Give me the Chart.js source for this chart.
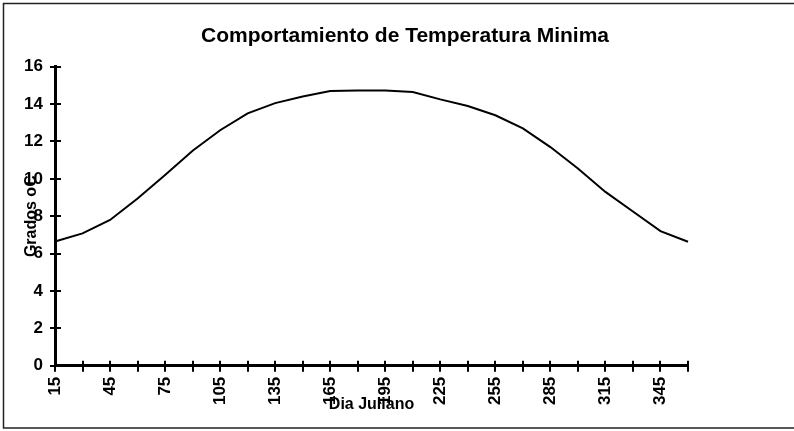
<!DOCTYPE html>
<html>
<head>
<meta charset="utf-8">
<script src="https://cdn.jsdelivr.net/npm/chart.js@4/dist/chart.umd.min.js"></script>
<style>
  html, body { margin: 0; padding: 0; background: #fff; }
  canvas { display: block; }
</style>
</head>
<body>
<canvas id="c" width="794" height="431"></canvas>
<script>
// ---- Data ----
const diasJulianos = [15, 30, 45, 60, 75, 90, 105, 120, 135, 150, 165, 180,
                      195, 210, 225, 240, 255, 270, 285, 300, 315, 330, 345, 360];
const temperaturaMinima = [6.65, 7.08, 7.8, 8.95, 10.2, 11.5, 12.6, 13.5, 14.05, 14.4, 14.7, 14.72,
                           14.72, 14.65, 14.25, 13.9, 13.4, 12.7, 11.7, 10.55, 9.3, 8.25, 7.2, 6.63];
const yMin = 0, yMax = 16, yStep = 2;
const chartTitle = 'Comportamiento de Temperatura Minima';
const xTitle = 'Dia Juliano';
const yTitle = 'Grados oC';

const FONT = "'Liberation Sans', Arial, Helvetica, sans-serif";

const frameAndTicks = {
  id: 'frameAndTicks',
  beforeDraw(chart) {
    const ctx = chart.ctx;
    ctx.save();
    ctx.fillStyle = '#fff';
    ctx.fillRect(0, 0, chart.width, chart.height);
    ctx.strokeStyle = '#222';
    ctx.lineWidth = 1.5;
    ctx.strokeRect(3.5, 3.5, chart.width + 10, 424.5);
    ctx.restore();
  },
  afterDraw(chart) {
    const ctx = chart.ctx;
    const a = chart.chartArea;
    const xs = chart.scales.x, ys = chart.scales.y;
    ctx.save();
    ctx.strokeStyle = '#000';
    ctx.lineWidth = 2;
    ctx.beginPath();
    ys.ticks.forEach((t, i) => {
      const py = Math.round(ys.getPixelForTick(i));
      ctx.moveTo(a.left - 5, py);
      ctx.lineTo(a.left + 6, py);
    });
    xs.ticks.forEach((t, i) => {
      const px = Math.round(xs.getPixelForTick(i));
      ctx.moveTo(px, a.bottom - 5);
      ctx.lineTo(px, a.bottom + 6);
    });
    ctx.stroke();
    ctx.restore();
  }
};

new Chart(document.getElementById('c'), {
  type: 'line',
  data: {
    labels: diasJulianos.map(String),
    datasets: [{
      data: temperaturaMinima,
      borderColor: '#000',
      borderWidth: 2,
      pointRadius: 0,
      tension: 0,
      fill: false
    }]
  },
  options: {
    responsive: false,
    animation: false,
    devicePixelRatio: 1,
    layout: { padding: { left: 16, right: 0, top: 0, bottom: 0 } },
    plugins: {
      legend: { display: false },
      tooltip: { enabled: false },
      title: {
        display: true,
        text: chartTitle,
        color: '#000',
        font: { family: FONT, size: 21, weight: 'bold', lineHeight: 1.2 },
        padding: { top: 24, bottom: 17.5 }
      }
    },
    scales: {
      x: {
        type: 'category',
        offset: false,
        grid: { display: true, drawOnChartArea: false, drawTicks: false },
        border: { display: true, color: '#000', width: 3 },
        ticks: {
          autoSkip: false,
          minRotation: 90,
          maxRotation: 90,
          padding: 11,
          color: '#000',
          font: { family: FONT, size: 17, weight: 'bold' },
          callback: function (value, index) {
            return index % 2 === 0 ? this.getLabelForValue(value) : '';
          }
        },
        title: {
          display: true,
          text: xTitle,
          color: '#000',
          font: { family: FONT, size: 16, weight: 'bold', lineHeight: 1.2 },
          padding: { top: 0, bottom: 16.4 }
        },
        afterFit(scale) { scale.height = 65.3; }
      },
      y: {
        min: yMin,
        max: yMax,
        grid: { display: true, drawOnChartArea: false, drawTicks: false },
        border: { display: true, color: '#000', width: 3 },
        ticks: {
          stepSize: yStep,
          padding: 12,
          color: '#000',
          font: { family: FONT, size: 17, weight: 'bold' }
        },
        title: {
          display: true,
          text: yTitle,
          color: '#000',
          font: { family: FONT, size: 16, weight: 'bold', lineHeight: 1.2 },
          padding: { top: 6, bottom: 0 }
        },
        afterFit(scale) { scale.width = 39; }
      },
      spacer: {
        type: 'linear',
        position: 'right',
        display: true,
        grid: { display: false, drawTicks: false },
        border: { display: false },
        ticks: { display: false },
        afterFit(scale) { scale.width = 106; }
      }
    }
  },
  plugins: [frameAndTicks]
});
</script>
</body>
</html>
